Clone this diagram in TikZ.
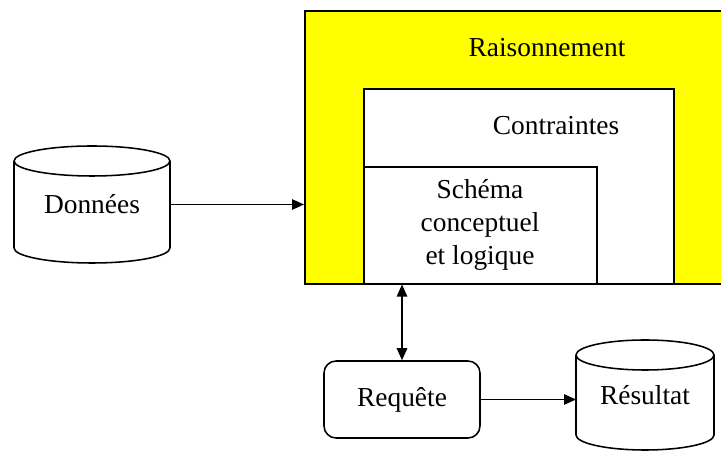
\documentclass[tikz,border=0pt]{standalone}
\usepackage{fontspec}
\setmainfont{Liberation Serif}
\usetikzlibrary{arrows.meta}
\definecolor{layeryellow}{RGB}{255,255,0}
\tikzset{
  base/.style={draw, line width=1.1pt, font=\fontsize{19.5}{23.5}\selectfont},
  layer/.style={draw, line width=1.1pt, anchor=north west, inner sep=0pt},
  label text/.style={font=\fontsize{19.5}{23.5}\selectfont, align=center},
  store/.style={font=\fontsize{19.5}{23.5}\selectfont, inner sep=0pt, outer sep=0pt},
  query/.style={base, rounded corners=0.3cm, minimum width=3.9cm, minimum height=1.925cm},
  flow/.style={line width=1.1pt, -{Triangle[length=3mm,width=2.6mm]}},
  both/.style={line width=1.1pt, {Triangle[length=3mm,width=2.6mm]}-{Triangle[length=3mm,width=2.6mm]}},
}
\begin{document}
\begin{tikzpicture}
\clip (0,0) rectangle (18.025,11.3);
% Nested layers
\node[layer, fill=layeryellow, minimum width=10.9cm, minimum height=6.825cm] (raisonnement) at (7.6,11.05) {};
\node[layer, fill=white, minimum width=7.75cm, minimum height=4.875cm] (contraintes) at (9.075,9.1) {};
\node[layer, fill=white, minimum width=5.825cm, minimum height=2.925cm] (schema) at (9.075,7.15) {};
\node[label text] (t-raisonnement) at (13.675,10.1) {Raisonnement};
\node[label text] (t-contraintes) at (13.9,8.15) {Contraintes};
\node[label text] (t-schema) at (12.0,5.675) {Schéma\\conceptuel\\et logique};

% Stores and query
\node[store, minimum width=3.9cm, minimum height=2.925cm] (donnees) at (2.3,6.1875) {Données};
\node[query] (requete) at (10.05,1.3125) {Requête};
\node[store, minimum width=3.45cm, minimum height=2.75cm] (resultat) at (16.125,1.425) {Résultat};
\foreach \n/\r in {donnees/1.95, resultat/1.725}
  \draw[line width=1.1pt] ([yshift=-3.75mm]\n.north west) -- ([yshift=3.75mm]\n.south west)
    arc[start angle=180, end angle=360, x radius=\r cm, y radius=3.75mm]
    -- ([yshift=-3.75mm]\n.north east)
    arc[start angle=0, end angle=360, x radius=\r cm, y radius=3.75mm];

% Connectors
\draw[flow] (donnees.east) -- (donnees.east -| raisonnement.west);
\draw[both] (requete.north) -- (requete.north |- schema.south);
\draw[flow] (requete.east) -- (requete.east -| resultat.west);
\end{tikzpicture}
\end{document}
